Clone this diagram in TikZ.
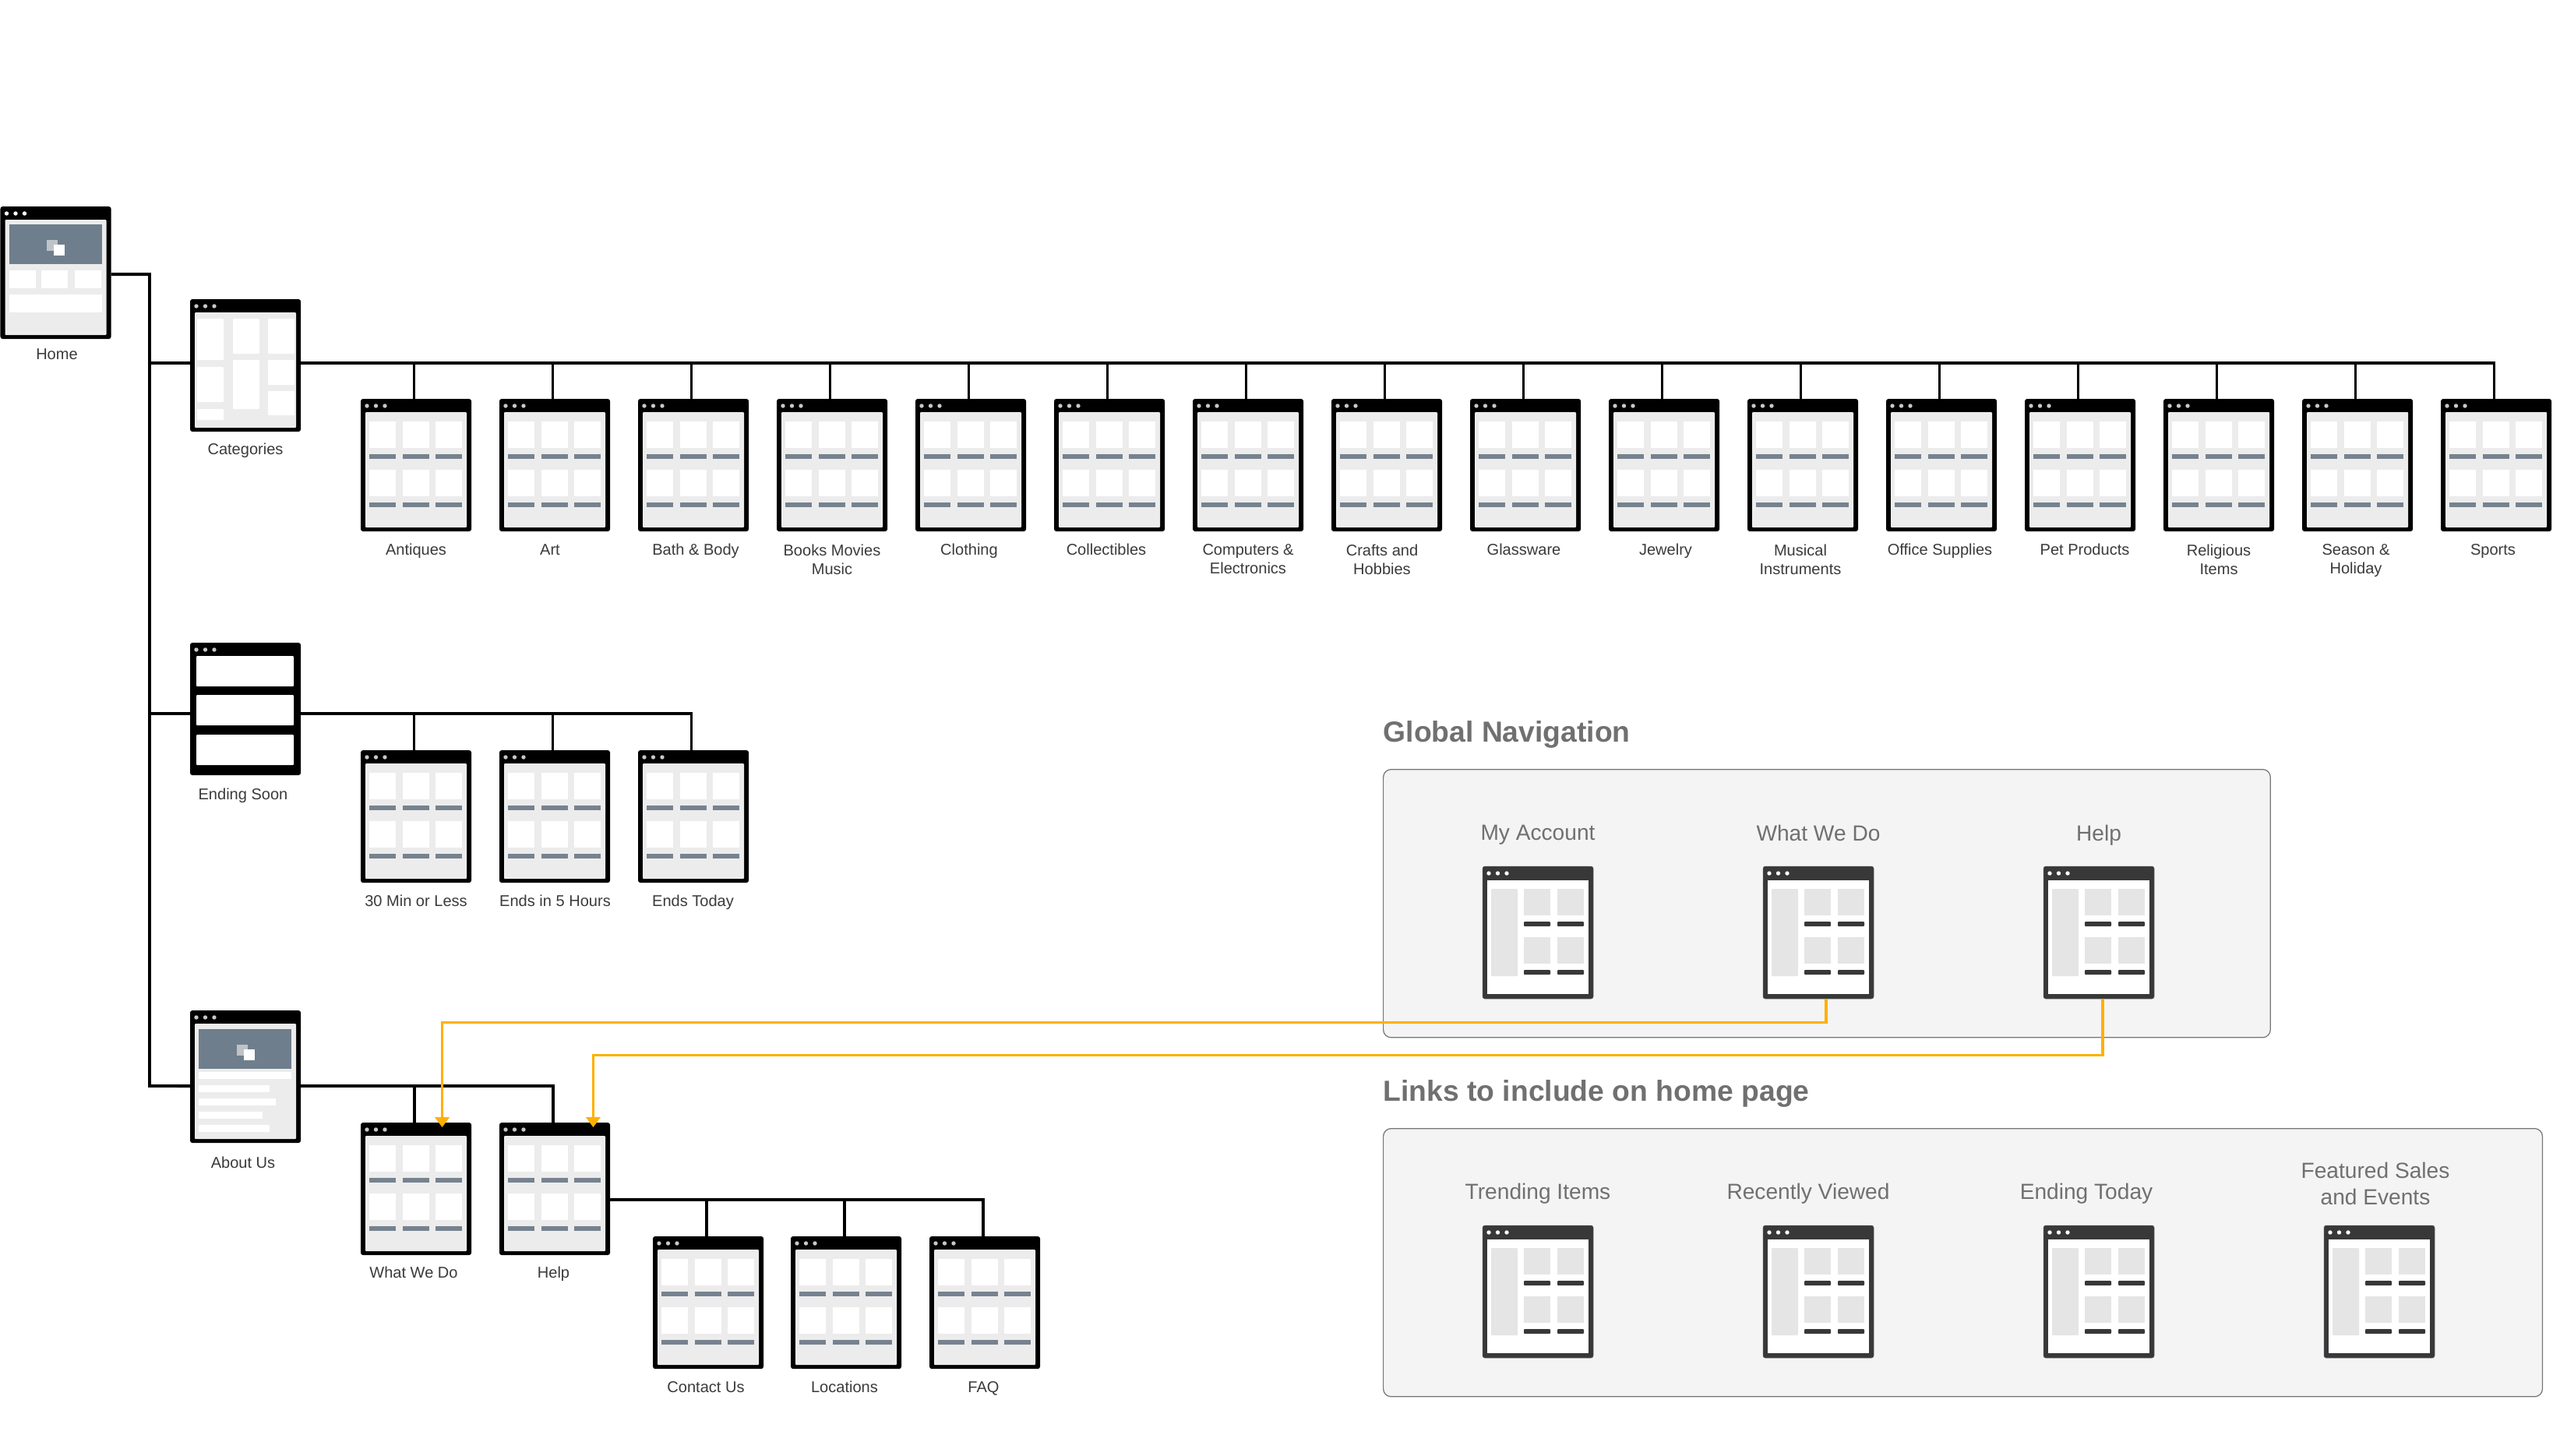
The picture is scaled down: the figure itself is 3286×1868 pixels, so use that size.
\documentclass[tikz,border=0pt]{standalone}
\usepackage{fontspec}
\setmainfont{Liberation Sans}
\usetikzlibrary{arrows.meta}

\definecolor{pagebg}{HTML}{ECECEC}
\definecolor{slate}{HTML}{6F7E8C}
\definecolor{barslate}{HTML}{76828F}
\definecolor{softdot}{HTML}{C8C8C8}
\definecolor{softsq}{HTML}{BEC3C9}
\definecolor{darkwin}{HTML}{383838}
\definecolor{darkedge}{HTML}{555B66}
\definecolor{darkcell}{HTML}{E5E5E5}
\definecolor{panelbg}{HTML}{F4F4F4}
\definecolor{panelline}{HTML}{757575}
\definecolor{labeltext}{HTML}{3A3A3A}
\definecolor{paneltext}{HTML}{707070}
\definecolor{navorange}{HTML}{FFB000}

\newcommand{\windots}[1]{\foreach \dx in {8,19.5,31} \fill[#1] (\dx,9) circle (2.7);}
\newcommand{\winback}{\fill[pagebg,rounded corners=.01cm] (6,17) rectangle (136,165);}
\newcommand{\heroblock}[1]{
    \fill[slate] (11,#1) rectangle (130,#1+51);
    \fill[softsq] (59.5,#1+20) rectangle +(14,14);
    \fill[white] (68.5,#1+26) rectangle +(14,14);
}

\tikzset{
    win/.style={anchor=north west,fill=black,inner sep=0,outer sep=0,minimum width=1.42cm,minimum height=1.7cm,rounded corners=.03cm},
    darknode/.style={win,fill=darkwin,draw=darkedge,line width=.15pt},
    conn/.style={line width=1.1pt},
    navlink/.style={draw=navorange,line width=.9pt,-{Triangle[length=3.7pt,width=5.2pt,fill=navorange]}},
    panel/.style={anchor=north west,fill=panelbg,draw=panelline,line width=.35pt,inner sep=0,rounded corners=.1cm},
    pagelabel/.style={text=labeltext,font=\fontsize{5.7pt}{6.8pt}\selectfont,inner sep=0,text height=1.1ex,text depth=0pt,yshift=.035cm},
    pagelabeltwo/.style={text=labeltext,font=\fontsize{5.7pt}{6.8pt}\selectfont,inner sep=0,align=center,text depth=1.2pt},
    navlabel/.style={text=paneltext,font=\fontsize{8pt}{9.7pt}\selectfont,inner sep=0,align=center,text depth=1.7pt},
    heading/.style={anchor=west,text=paneltext,font=\fontsize{10.6pt}{12pt}\selectfont\bfseries,inner sep=0},
    leafpage/.pic={
        \winback
        \windots{softdot}
        \foreach \cx in {11,54,96} \foreach \cy in {29,91} {
            \fill[white] (\cx,\cy) rectangle +(34,34);
            \fill[barslate] (\cx,\cy+42) rectangle +(34,6);
        }
    },
    homepage/.pic={
        \winback
        \windots{white}
        \heroblock{23}
        \foreach \cx in {11,52.5,95.5} \fill[white] (\cx,82) rectangle +(34,23);
        \fill[white] (11,113) rectangle (130,136);
    },
    catpage/.pic={
        \winback
        \windots{softdot}
        \foreach \ax/\ay/\bx/\by in {9/25/43/78,9/87/43/132,9/141/43/155,55/25/89/70,55/78/89/141,100/25/134/70,100/78/134/110,100/118/134/149}
            \fill[white,rounded corners=.01cm] (\ax,\ay) rectangle (\bx,\by);
    },
    strippage/.pic={
        \windots{softdot}
        \foreach \ay/\by in {17/56,67/106,118/157}
            \fill[white,rounded corners=.01cm] (8,\ay) rectangle (133,\by);
    },
    aboutpage/.pic={
        \winback
        \windots{softdot}
        \heroblock{24}
        \foreach \ay/\bx in {79/130,96/102,113/110,130/93,147/102}
            \fill[white] (11,\ay) rectangle (\bx,\ay+9);
    },
    darkpage/.pic={
        \fill[white] (6,18) rectangle (136,164);
        \windots{white}
        \fill[darkcell,rounded corners=.01cm] (11,29) rectangle (45,141);
        \foreach \cx in {53,96} \foreach \cy in {29,91} {
            \fill[darkcell] (\cx,\cy) rectangle +(34,34);
            \fill[darkwin,rounded corners=.01cm] (\cx,\cy+42) rectangle +(34,6);
        }
    }
}

\begin{document}
\begin{tikzpicture}[x=0.01cm,y=-0.01cm]
    \useasboundingbox (0,0) rectangle (3286,1868);

    %panels
    \node[panel,minimum width=11.38cm,minimum height=3.44cm] (globalpanel) at (1775,987) {};
    \node[panel,minimum width=14.87cm,minimum height=3.44cm] (linkspanel) at (1775,1448) {};
    \node[heading] (globalhead) at (1775,943) {Global Navigation};
    \node[heading] (linkshead) at (1775,1404) {Links to include on home page};

    %main pages
    \node[win] (home) at (0.5,265) {};
    \pic at (home.north west) {homepage};
    \node[win] (categories) at (244,384) {};
    \pic at (categories.north west) {catpage};
    \node[win] (ending) at (244,825) {};
    \pic at (ending.north west) {strippage};
    \node[win] (about) at (244,1297) {};
    \pic at (about.north west) {aboutpage};

    %trunks
    \coordinate (homeout) at ([yshift=-.02cm]home.east);
    \coordinate (cattrunk) at ([yshift=.03cm]categories.east);
    \coordinate (endtrunk) at ([yshift=-.06cm]ending.east);
    \coordinate (abouttrunk) at ([yshift=-.12cm]about.east);
    \coordinate (spine) at (192,1394);
    \draw[conn] (homeout) -| (spine) -- (about.west |- abouttrunk);
    \draw[conn] (spine |- cattrunk) -- (categories.west |- cattrunk);
    \draw[conn] (spine |- endtrunk) -- (ending.west |- endtrunk);

    %category pages
    \foreach \nm [count=\i from 0, evaluate=\i as \wx using {int(463+178*\i)}] in {antiques,art,bath,books,clothing,collectibles,computers,crafts,glassware,jewelry,musical,office,pet,religious,season,sports} {
        \node[win] (\nm) at (\wx,512) {};
        \pic at (\nm.north west) {leafpage};
        \draw[conn] ([xshift=-.025cm]\nm.north) |- (cattrunk);
    }
    \foreach \nm/\lx/\lbl in {antiques/534/Antiques,art/706/Art,bath/893/Bath \& Body,clothing/1244/Clothing,collectibles/1420/Collectibles,glassware/1956/Glassware,jewelry/2138/Jewelry,office/2490/Office Supplies,pet/2676/Pet Products,sports/3200/Sports}
        \node[pagelabel] (\nm label) at (\lx,706) {\lbl};
    \foreach \nm/\lx/\lbl in {books/1068/Books Movies\\Music,computers/1602/Computers \&\\Electronics,crafts/1774/Crafts and\\Hobbies,musical/2311/Musical\\Instruments,religious/2848/Religious\\Items,season/3024/Season \&\\Holiday}
        \node[pagelabeltwo] (\nm label) at (\lx,720) {\lbl};

    %ending soon pages
    \foreach \nm/\wx/\lx/\lbl in {thirtymin/463/534/30 Min or Less,fivehours/641/712.5/Ends in 5 Hours,endstoday/819/889.5/Ends Today} {
        \node[win] (\nm) at (\wx,963) {};
        \pic at (\nm.north west) {leafpage};
        \draw[conn] ([xshift=-.025cm]\nm.north) |- (endtrunk);
        \node[pagelabel] (\nm label) at (\lx,1157) {\lbl};
    }

    %about pages
    \foreach \nm/\wx/\lx/\lbl in {whatwedo/463/531/What We Do,help/641/710.5/Help} {
        \node[win] (\nm) at (\wx,1441) {};
        \pic at (\nm.north west) {leafpage};
        \draw[conn] ([xshift=-.02cm]\nm.north) |- (abouttrunk);
        \node[pagelabel] (\nm label) at (\lx,1634) {\lbl};
    }
    \coordinate (helptrunk) at ([yshift=-.14cm]help.east);
    \foreach \nm/\wx/\lx/\lbl in {contact/838/906/Contact Us,locations/1015/1084/Locations,faq/1193/1262.5/FAQ} {
        \node[win] (\nm) at (\wx,1587) {};
        \pic at (\nm.north west) {leafpage};
        \draw[conn] ([xshift=-.02cm]\nm.north) |- (helptrunk);
        \node[pagelabel] (\nm label) at (\lx,1781) {\lbl};
    }

    %main labels
    \node[pagelabel] (homelabel) at (73,455) {Home};
    \node[pagelabel] (categorieslabel) at (315,577) {Categories};
    \node[pagelabel] (endinglabel) at (312,1020) {Ending Soon};
    \node[pagelabel] (aboutlabel) at (312,1493) {About Us};

    %global navigation
    \foreach \nm/\wx/\lx/\lbl in {navaccount/1903/1974/My Account,navwhat/2263/2334/What We Do,navhelp/2623/2694/Help} {
        \node[darknode] (\nm) at (\wx,1112) {};
        \pic at (\nm.north west) {darkpage};
        \node[navlabel] (\nm label) at (\lx,1072) {\lbl};
    }

    %links on home page
    \foreach \nm/\wx/\lx/\ly/\lbl in {linktrending/1903/1974/1532/Trending Items,linkrecent/2263/2321/1532/Recently Viewed,linkending/2623/2678/1532/Ending Today,linkfeatured/2983/3049/1522/Featured Sales\\and Events} {
        \node[darknode] (\nm) at (\wx,1573) {};
        \pic at (\nm.north west) {darkpage};
        \node[navlabel] (\nm label) at (\lx,\ly) {\lbl};
    }

    %orange links
    \coordinate (whattip) at ([xshift=.335cm,yshift=-.06cm]whatwedo.north);
    \coordinate (helptip) at ([xshift=.494cm,yshift=-.06cm]help.north);
    \draw[navlink] ([xshift=.1cm]navwhat.south) -- ++(0,30) -| (whattip);
    \draw[navlink] ([xshift=.05cm]navhelp.south) -- ++(0,72) -| (helptip);
\end{tikzpicture}
\end{document}
